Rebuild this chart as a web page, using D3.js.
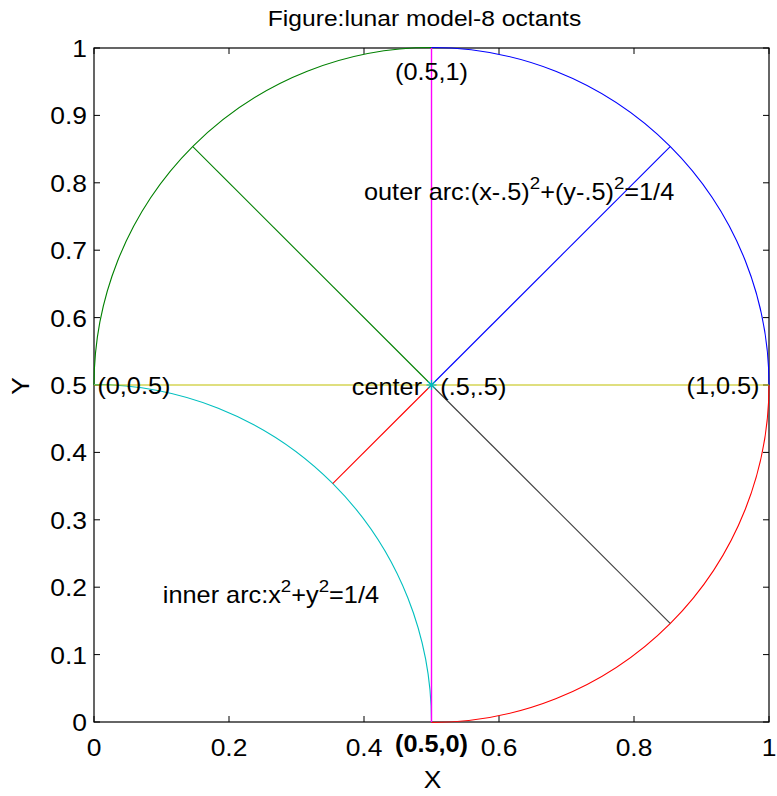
<!DOCTYPE html>
<html>
<head>
<meta charset="utf-8">
<script src="https://cdn.jsdelivr.net/npm/d3@7/dist/d3.min.js"></script>
<style>
  html, body { margin: 0; padding: 0; background: #fff; }
  svg text { font-family: "Liberation Sans", Arial, sans-serif; fill: #000; }
</style>
</head>
<body>
<svg id="chart" width="777" height="796"></svg>
<script>
// ---------- data ----------
const xTicks = [0, 0.2, 0.4, 0.6, 0.8, 1];
const yTicks = [0, 0.1, 0.2, 0.3, 0.4, 0.5, 0.6, 0.7, 0.8, 0.9, 1];

// arcs: centre, radius, start/end angle (degrees, math convention)
const arcNames   = ["upper-left outer", "upper-right outer", "lower-right outer", "inner"];
const arcCx      = [0.5, 0.5, 0.5, 0];
const arcCy      = [0.5, 0.5, 0.5, 0];
const arcR       = [0.5, 0.5, 0.5, 0.5];
const arcA0      = [90, 0, -90, 90];
const arcA1      = [180, 90, 0, 0];
const arcColors  = ["#008000", "#0000ff", "#ff0000", "#00bfbf"];

// straight segments: [x1, y1] -> [x2, y2]
const segX1 = [0.5, 0.5, 0.5, 0.5, 0, 0.5];
const segY1 = [0.5, 0.5, 0.5, 0.5, 0.5, 0];
const segX2 = [0.1464, 0.8536, 0.8536, 0.3536, 1, 0.5];
const segY2 = [0.8536, 0.8536, 0.1464, 0.3536, 0.5, 1];
const segColors = ["#008000", "#0000ff", "#404040", "#ff0000", "#bfbf00", "#ff00ff"];
const segWidths = [1.1, 1.1, 1.1, 1.1, 1.2, 1.4];

// centre marker
const markerX = [0.5];
const markerY = [0.5];

// annotations
const labelText = ["(0.5,1)", "center", "(.5,.5)", "(0,0.5)", "(1,0.5)", "(0.5,0)"];
const labelX    = [0.5, 0.486, 0.513, 0.005, 0.986, 0.5];
const labelY    = [0.9525, 0.485, 0.485, 0.487, 0.487, -0.045];
const labelAnchor = ["middle", "end", "start", "start", "end", "middle"];
const labelBold = [false, false, false, false, false, true];

// ---------- layout ----------
const svg = d3.select("#chart");
const L = 94, R = 769, T = 48, B = 722;
const x = d3.scaleLinear().domain([0, 1]).range([L, R]);
const y = d3.scaleLinear().domain([0, 1]).range([B, T]);
const SX = 1.1;     // horizontal stretch of the original text
const FS = 23;

function stretchedText(g, px, py, anchor, size, sx) {
  return g.append("text")
    .attr("transform", `translate(${px},${py}) scale(${sx},1)`)
    .attr("text-anchor", anchor)
    .style("font-size", size + "px");
}

// title
stretchedText(svg, (L + R) / 2 - 7, 26, "middle", 22, 1.12).text("Figure:lunar model-8 octants");

// axes box
svg.append("rect").attr("x", L).attr("y", T).attr("width", R - L).attr("height", B - T)
  .attr("fill", "none").attr("stroke", "#000").attr("stroke-width", 1.2);

// ticks (inward, all four sides)
const tk = 6;
const tg = svg.append("g").attr("stroke", "#000").attr("stroke-width", 1);
xTicks.forEach(v => {
  tg.append("line").attr("x1", x(v)).attr("x2", x(v)).attr("y1", B).attr("y2", B - tk);
  tg.append("line").attr("x1", x(v)).attr("x2", x(v)).attr("y1", T).attr("y2", T + tk);
});
yTicks.forEach(v => {
  tg.append("line").attr("x1", L).attr("x2", L + tk).attr("y1", y(v)).attr("y2", y(v));
  tg.append("line").attr("x1", R).attr("x2", R - tk).attr("y1", y(v)).attr("y2", y(v));
});

// tick labels
const fmt = d => (d === 0 || d === 1) ? String(d) : d3.format(".1f")(d);
xTicks.forEach(v => stretchedText(svg, x(v), B + 34, "middle", 24, SX).text(fmt(v)));
yTicks.forEach(v => stretchedText(svg, L - 7, y(v) + 9, "end", 24, SX).text(fmt(v)));

// axis labels
stretchedText(svg, (L + R) / 2 + 1, 788, "middle", 24, SX).text("X");
svg.append("text")
  .attr("transform", `translate(29,${(T + B) / 2 + 1}) rotate(-90) scale(${SX},1)`)
  .attr("text-anchor", "middle").style("font-size", "24px").text("Y");

// plot group
const pg = svg.append("g");

// arcs
arcNames.forEach((_, i) => {
  const p = d3.path();
  const cx = x(arcCx[i]), cy = y(arcCy[i]);
  const r = x(arcR[i]) - x(0);
  const a0 = -arcA0[i] * Math.PI / 180, a1 = -arcA1[i] * Math.PI / 180;
  p.moveTo(cx + r * Math.cos(a0), cy + r * Math.sin(a0));
  p.arc(cx, cy, r, a0, a1, arcA1[i] > arcA0[i]);
  pg.append("path").attr("d", p.toString())
    .attr("fill", "none").attr("stroke", arcColors[i]).attr("stroke-width", 1.1);
});

// straight segments
segX1.forEach((_, i) => {
  pg.append("line")
    .attr("x1", x(segX1[i])).attr("y1", y(segY1[i]))
    .attr("x2", x(segX2[i])).attr("y2", y(segY2[i]))
    .attr("stroke", segColors[i]).attr("stroke-width", segWidths[i]);
});

// centre marker (asterisk)
markerX.forEach((mx, i) => {
  const cx = x(mx), cy = y(markerY[i]), s = 5;
  const m = pg.append("g").attr("stroke", "#00bfbf").attr("stroke-width", 1.2);
  m.append("line").attr("x1", cx - s).attr("x2", cx + s).attr("y1", cy).attr("y2", cy);
  m.append("line").attr("x1", cx).attr("x2", cx).attr("y1", cy - s).attr("y2", cy + s);
  m.append("line").attr("x1", cx - s * 0.7).attr("x2", cx + s * 0.7).attr("y1", cy - s * 0.7).attr("y2", cy + s * 0.7);
  m.append("line").attr("x1", cx - s * 0.7).attr("x2", cx + s * 0.7).attr("y1", cy + s * 0.7).attr("y2", cy - s * 0.7);
});

// point labels
labelText.forEach((t, i) => {
  stretchedText(svg, x(labelX[i]), y(labelY[i]), labelAnchor[i], FS, SX)
    .style("font-weight", labelBold[i] ? "bold" : "normal")
    .text(t);
});

// formula labels with superscripts
function formula(px, py, parts) {
  const t = stretchedText(svg, px, py, "start", FS, SX);
  parts.forEach(([s, sup]) => {
    const ts = t.append("tspan").text(s);
    if (sup) ts.attr("dy", -11).style("font-size", "17px");
    else ts.attr("dy", ts.node().previousSibling ? 11 : 0);
  });
}
formula(x(0.400), y(0.7745), [["outer arc:(x-.5)", false], ["2", true], ["+(y-.5)", false], ["2", true], ["=1/4", false]]);
formula(x(0.102), y(0.176), [["inner arc:x", false], ["2", true], ["+y", false], ["2", true], ["=1/4", false]]);
</script>
</body>
</html>
